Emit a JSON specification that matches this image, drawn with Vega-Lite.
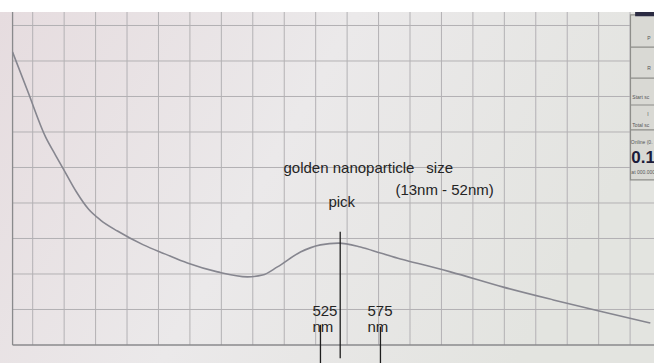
{
  "$schema": "https://vega.github.io/schema/vega-lite/v6.json",
  "width": 654,
  "height": 351,
  "autosize": {"type": "none"},
  "padding": {"top": 12, "left": 0, "right": 0, "bottom": 0},
  "background": "#ffffff",
  "config": {
    "view": {"stroke": null},
    "font": "Liberation Sans",
    "axis": {"domain": false, "ticks": false, "grid": false, "zindex": 2, "labelOverlap": false, "labelFlush": false, "titleOpacity": 0},
    "axisX": {"orient": "bottom", "offset": -18, "labelFontSize": 5.5, "labelColor": "#9a9a9a", "labelPadding": 3},
    "axisY": {"orient": "left", "offset": -12, "labelFontSize": 5, "labelColor": "#949494", "labelPadding": 2}
  },
  "datasets": {
    "spectrum": [
      {"nm": 284, "a": 0.825}, {"nm": 295.9, "a": 0.716}, {"nm": 310.2, "a": 0.586},
      {"nm": 318.1, "a": 0.535}, {"nm": 326.1, "a": 0.485}, {"nm": 334.8, "a": 0.431},
      {"nm": 344.3, "a": 0.383}, {"nm": 353.9, "a": 0.352}, {"nm": 367.4, "a": 0.321},
      {"nm": 388, "a": 0.282}, {"nm": 405.5, "a": 0.256}, {"nm": 423, "a": 0.231},
      {"nm": 446.9, "a": 0.206}, {"nm": 470.7, "a": 0.192}, {"nm": 482.7, "a": 0.197},
      {"nm": 494.6, "a": 0.22}, {"nm": 512.9, "a": 0.262}, {"nm": 528.8, "a": 0.282},
      {"nm": 543.1, "a": 0.287}, {"nm": 560.6, "a": 0.276}, {"nm": 576.5, "a": 0.259},
      {"nm": 592.4, "a": 0.242}, {"nm": 608.3, "a": 0.228}, {"nm": 632.1, "a": 0.206},
      {"nm": 674.2, "a": 0.163}, {"nm": 714, "a": 0.127}, {"nm": 753.7, "a": 0.093},
      {"nm": 791.1, "a": 0.062}
    ],
    "vgrid": [
      {"nm": 300}, {"nm": 325}, {"nm": 350}, {"nm": 375}, {"nm": 400}, {"nm": 425},
      {"nm": 450}, {"nm": 475}, {"nm": 500}, {"nm": 525}, {"nm": 550}, {"nm": 575},
      {"nm": 600}, {"nm": 625}, {"nm": 650}, {"nm": 675}, {"nm": 700}, {"nm": 725},
      {"nm": 750}, {"nm": 775}
    ],
    "hgrid": [
      {"a": 0.1}, {"a": 0.2}, {"a": 0.3}, {"a": 0.4}, {"a": 0.5}, {"a": 0.6},
      {"a": 0.7}, {"a": 0.8}, {"a": 0.9}
    ],
    "markers": [
      {"nm": 544.5, "top": 0.319, "bottom": -0.037},
      {"nm": 528.8, "top": 0.057, "bottom": -0.06},
      {"nm": 576.5, "top": 0.052, "bottom": -0.06}
    ],
    "notes": [
      {"nm": 499.4, "a": 0.485, "text": "golden nanoparticle"},
      {"nm": 613, "a": 0.485, "text": "size"},
      {"nm": 588.4, "a": 0.423, "text": "(13nm - 52nm)"},
      {"nm": 535.1, "a": 0.389, "text": "pick"},
      {"nm": 522.4, "a": 0.082, "text": "525"},
      {"nm": 522.4, "a": 0.037, "text": "nm"},
      {"nm": 566.2, "a": 0.082, "text": "575"},
      {"nm": 566.2, "a": 0.037, "text": "nm"}
    ],
    "panelLines": [
      {"a": 0.839}, {"a": 0.752}, {"a": 0.676}, {"a": 0.606}
    ],
    "panelText": [
      {"nm": 788.7, "a": 0.859, "text": "P"},
      {"nm": 788.7, "a": 0.775, "text": "R"},
      {"nm": 776.8, "a": 0.693, "text": "Start sc"},
      {"nm": 788.7, "a": 0.645, "text": "I"},
      {"nm": 776.8, "a": 0.614, "text": "Total sc"},
      {"nm": 775.6, "a": 0.566, "text": "Online (0."},
      {"nm": 776, "a": 0.482, "text": "at 000.000"}
    ],
    "panelBig": [
      {"nm": 776, "a": 0.512, "text": "0.1"}
    ]
  },
  "layer": [
    {
      "data": {"values": [{}]},
      "mark": {"type": "rect", "color": {"gradient": "linear", "x1": 0, "y1": 0, "x2": 1, "y2": 0.3,
        "stops": [{"offset": 0, "color": "#e6dcdf"}, {"offset": 0.5, "color": "#ebe9ea"}, {"offset": 1, "color": "#e3e4e0"}]}},
      "encoding": {
        "x": {"datum": 274, "type": "quantitative", "scale": {"domain": [274, 794], "nice": false, "zero": false}, "title": null},
        "x2": {"datum": 794},
        "y": {"datum": -0.0507, "type": "quantitative", "scale": {"domain": [-0.0507, 0.938], "nice": false, "zero": false}, "title": null},
        "y2": {"datum": 0.938}
      }
    },
    {
      "data": {"name": "vgrid"},
      "mark": {"type": "rule", "color": "#b3b1b4", "strokeWidth": 1},
      "encoding": {
        "x": {"field": "nm", "type": "quantitative", "scale": {"domain": [274, 794], "nice": false, "zero": false}, "title": null},
        "y": {"datum": 0, "type": "quantitative", "scale": {"domain": [-0.0507, 0.938], "nice": false, "zero": false}, "title": null},
        "y2": {"datum": 0.938}
      }
    },
    {
      "data": {"name": "hgrid"},
      "mark": {"type": "rule", "color": "#b3b1b4", "strokeWidth": 1},
      "encoding": {
        "y": {"field": "a", "type": "quantitative", "scale": {"domain": [-0.0507, 0.938], "nice": false, "zero": false}, "title": null},
        "x": {"datum": 284, "type": "quantitative", "scale": {"domain": [274, 794], "nice": false, "zero": false}, "title": null},
        "x2": {"datum": 794}
      }
    },
    {
      "data": {"values": [{}]},
      "mark": {"type": "rule", "color": "#8a8a8c", "strokeWidth": 1.3},
      "encoding": {
        "x": {"datum": 284, "type": "quantitative", "scale": {"domain": [274, 794], "nice": false, "zero": false}, "title": null},
        "y": {"datum": 0, "type": "quantitative", "scale": {"domain": [-0.0507, 0.938], "nice": false, "zero": false}, "title": null},
        "y2": {"datum": 0.938}
      }
    },
    {
      "data": {"values": [{}]},
      "mark": {"type": "rule", "color": "#8a8a8c", "strokeWidth": 1.3},
      "encoding": {
        "x": {"datum": 284, "type": "quantitative", "scale": {"domain": [274, 794], "nice": false, "zero": false}, "title": null},
        "x2": {"datum": 794},
        "y": {"datum": 0, "type": "quantitative", "scale": {"domain": [-0.0507, 0.938], "nice": false, "zero": false}, "title": null}
      }
    },
    {
      "data": {"name": "spectrum"},
      "mark": {"type": "line", "color": "#86868f", "strokeWidth": 1.6, "interpolate": "monotone"},
      "encoding": {
        "x": {"field": "nm", "type": "quantitative", "scale": {"domain": [274, 794], "nice": false, "zero": false}, "title": null,
          "axis": {"values": [325, 350, 375, 400, 425, 450, 475, 500, 525, 550, 575, 600, 625, 650, 675, 700, 725, 750, 775, 786],
            "labelExpr": "datum.value == 786 ? 'nm' : datum.label", "format": "d"}},
        "y": {"field": "a", "type": "quantitative", "scale": {"domain": [-0.0507, 0.938], "nice": false, "zero": false}, "title": null,
          "axis": {"values": [0.05, 0.1, 0.15, 0.2, 0.25, 0.3, 0.35],
            "labelExpr": "replace(format(datum.value, '.2f'), '0.', '.')"}}
      }
    },
    {
      "data": {"name": "markers"},
      "mark": {"type": "rule", "color": "#1e1e1e", "strokeWidth": 1.3, "clip": false},
      "encoding": {
        "x": {"field": "nm", "type": "quantitative", "scale": {"domain": [274, 794], "nice": false, "zero": false}, "title": null},
        "y": {"field": "top", "type": "quantitative", "scale": {"domain": [-0.0507, 0.938], "nice": false, "zero": false}, "title": null},
        "y2": {"field": "bottom"}
      }
    },
    {
      "data": {"name": "notes"},
      "mark": {"type": "text", "align": "left", "baseline": "alphabetic", "fontSize": 15, "color": "#242424", "font": "Liberation Sans"},
      "encoding": {
        "x": {"field": "nm", "type": "quantitative", "scale": {"domain": [274, 794], "nice": false, "zero": false}, "title": null},
        "y": {"field": "a", "type": "quantitative", "scale": {"domain": [-0.0507, 0.938], "nice": false, "zero": false}, "title": null},
        "text": {"field": "text"}
      }
    },
    {
      "data": {"values": [{}]},
      "mark": {"type": "rect", "color": "#d9d9d4", "stroke": "#8e8e8a", "strokeWidth": 1.2, "clip": false},
      "encoding": {
        "x": {"datum": 775.3, "type": "quantitative", "scale": {"domain": [274, 794], "nice": false, "zero": false}, "title": null},
        "x2": {"datum": 830},
        "y": {"datum": 0.465, "type": "quantitative", "scale": {"domain": [-0.0507, 0.938], "nice": false, "zero": false}, "title": null},
        "y2": {"datum": 0.93}
      }
    },
    {
      "data": {"name": "panelLines"},
      "mark": {"type": "rule", "color": "#8e8e8a", "strokeWidth": 1.2, "clip": false},
      "encoding": {
        "y": {"field": "a", "type": "quantitative", "scale": {"domain": [-0.0507, 0.938], "nice": false, "zero": false}, "title": null},
        "x": {"datum": 775.3, "type": "quantitative", "scale": {"domain": [274, 794], "nice": false, "zero": false}, "title": null},
        "x2": {"datum": 830}
      }
    },
    {
      "data": {"values": [{}]},
      "mark": {"type": "rect", "color": "#2b2b42", "clip": false},
      "encoding": {
        "x": {"datum": 779, "type": "quantitative", "scale": {"domain": [274, 794], "nice": false, "zero": false}, "title": null},
        "x2": {"datum": 830},
        "y": {"datum": 0.926, "type": "quantitative", "scale": {"domain": [-0.0507, 0.938], "nice": false, "zero": false}, "title": null},
        "y2": {"datum": 0.938}
      }
    },
    {
      "data": {"name": "panelText"},
      "mark": {"type": "text", "align": "left", "baseline": "alphabetic", "fontSize": 5, "color": "#555555", "clip": false},
      "encoding": {
        "x": {"field": "nm", "type": "quantitative", "scale": {"domain": [274, 794], "nice": false, "zero": false}, "title": null},
        "y": {"field": "a", "type": "quantitative", "scale": {"domain": [-0.0507, 0.938], "nice": false, "zero": false}, "title": null},
        "text": {"field": "text"}
      }
    },
    {
      "data": {"name": "panelBig"},
      "mark": {"type": "text", "align": "left", "baseline": "alphabetic", "fontSize": 17, "fontWeight": "bold", "color": "#1b1b3a", "clip": false},
      "encoding": {
        "x": {"field": "nm", "type": "quantitative", "scale": {"domain": [274, 794], "nice": false, "zero": false}, "title": null},
        "y": {"field": "a", "type": "quantitative", "scale": {"domain": [-0.0507, 0.938], "nice": false, "zero": false}, "title": null},
        "text": {"field": "text"}
      }
    }
  ]
}
